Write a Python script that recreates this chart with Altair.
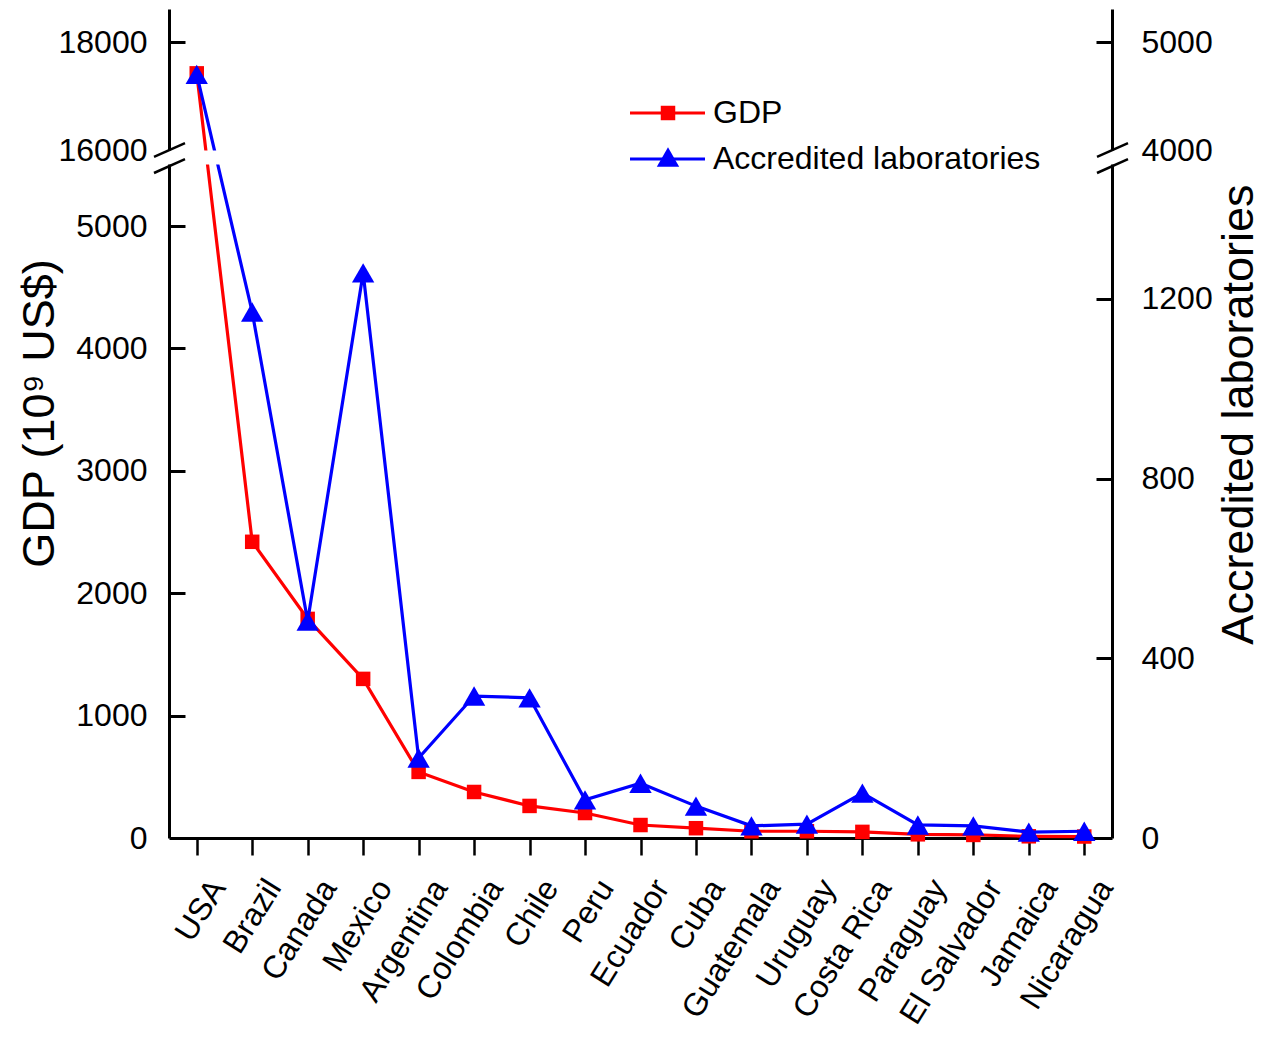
import altair as alt
import pandas as pd

# ---------------- data ----------------
countries = ["USA", "Brazil", "Canada", "Mexico", "Argentina", "Colombia", "Chile",
             "Peru", "Ecuador", "Cuba", "Guatemala", "Uruguay", "Costa Rica",
             "Paraguay", "El Salvador", "Jamaica", "Nicaragua"]
gdp = [17420, 2420, 1790, 1300, 540, 376, 262, 204, 106, 80, 55, 55, 50, 30, 25, 14, 12]
labs = [4700, 1171, 483, 1258, 178, 316, 312, 85, 122, 71, 27, 31, 100, 29, 27, 13, 15]

gdp_ticks = [0, 1000, 2000, 3000, 4000, 5000, 16000, 18000]
labs_ticks = [0, 400, 800, 1200, 4000, 5000]
legend_labels = ["GDP", "Accredited laboratories"]

# ---------------- broken-axis scale setup ----------------
W, H = 943, 829
FONT = "Liberation Sans"

G_TOP = 6773.0        # top of left display domain
G_BREAK = 16000.0     # first value of upper segment
G_BREAK_D = 5621.0    # display position of G_BREAK
G_UP = 0.441          # compression of upper segment

L_TOP = 1845.5
L_BREAK = 4000.0
L_BREAK_D = 1531.6
L_UP = 0.2404


def gd(v):
    return v if v < 10000 else G_BREAK_D + (v - G_BREAK) * G_UP


def ld(v):
    return v if v < 3000 else L_BREAK_D + (v - L_BREAK) * L_UP


def label_expr(ticks, fn):
    parts = []
    for t in ticks:
        if fn(t) != t:
            parts.append("abs(datum.value - %f) < 1 ? '%d' : " % (fn(t), t))
    return "".join(parts) + "datum.label"


df = pd.DataFrame({"country": countries, "gdp": gdp, "labs": labs})

base = alt.Chart(df).transform_calculate(
    gdp_d="datum.gdp < 10000 ? datum.gdp : %f + (datum.gdp - %f) * %f" % (G_BREAK_D, G_BREAK, G_UP),
    labs_d="datum.labs < 3000 ? datum.labs : %f + (datum.labs - %f) * %f" % (L_BREAK_D, L_BREAK, L_UP),
)

xenc = alt.X(
    "country:N", sort=countries, title=None,
    scale=alt.Scale(padding=0.5),
    axis=alt.Axis(
        labelAngle=302, labelAlign="right", labelBaseline="middle",
        labelFontSize=32, labelFont=FONT, labelColor="black",
        labelOffset=21, labelPadding=27,
        tickSize=17, tickWidth=2.5, tickColor="black",
        domainWidth=3, domainColor="black", grid=False,
    ),
)

gscale = alt.Scale(domain=[0, G_TOP], nice=False, zero=False)
lscale = alt.Scale(domain=[0, L_TOP], nice=False, zero=False)

common_label_axis = dict(
    tickSize=0, ticks=False, grid=False, format="d",
    labelFontSize=32, labelFont=FONT, labelColor="black",
    domainWidth=3, domainColor="black",
    titleFontSize=45, titleFont=FONT, titleFontWeight="normal", titleColor="black",
    titleAngle=270, titleAlign="center", titleBaseline="alphabetic",
)

gdp_line = base.mark_line(color="#ff0000", strokeWidth=3.2).encode(
    x=xenc,
    y=alt.Y("gdp_d:Q", scale=gscale, title="GDP (10⁹ US$)",
            axis=alt.Axis(orient="left", values=[gd(t) for t in gdp_ticks],
                          labelExpr=label_expr(gdp_ticks, gd), labelPadding=22,
                          titleX=-116, titleY=404, **common_label_axis)),
)
gdp_pts = base.mark_point(shape="square", filled=True, size=210, color="#ff0000", opacity=1).encode(
    x=xenc,
    y=alt.Y("gdp_d:Q", scale=gscale,
            axis=alt.Axis(orient="right", offset=-W, labels=False, domain=False, grid=False,
                          values=[gd(t) for t in gdp_ticks if t not in (0, 16000)],
                          tickSize=16, tickWidth=3, tickColor="black", title=None)),
)
labs_line = base.mark_line(color="#0000ff", strokeWidth=3.2).encode(
    x=xenc,
    y=alt.Y("labs_d:Q", scale=lscale, title="Accredited laboratories",
            axis=alt.Axis(orient="right", values=[ld(t) for t in labs_ticks],
                          labelExpr=label_expr(labs_ticks, ld), labelPadding=29,
                          titleX=140, titleY=405, **common_label_axis)),
)
labs_pts = base.mark_point(shape="triangle-up", filled=True, size=500, color="#0000ff", opacity=1).encode(
    x=xenc,
    y=alt.Y("labs_d:Q", scale=lscale,
            axis=alt.Axis(orient="left", offset=-W, labels=False, domain=False, grid=False,
                          values=[ld(t) for t in labs_ticks if t not in (0, 4000)],
                          tickSize=16, tickWidth=3, tickColor="black", title=None)),
)

# ---------------- axis break decoration ----------------
gap = alt.Chart(pd.DataFrame({"y1": [5503.0], "y2": [G_BREAK_D - 4]})).mark_rect(
    color="white").encode(
    x=alt.value(-12), x2=alt.value(W + 12),
    y=alt.Y("y1:Q", scale=gscale, axis=None), y2="y2:Q",
)
slash_df = pd.DataFrame({"y1": [G_BREAK_D - 57, 5490 - 57], "y2": [G_BREAK_D + 57, 5490 + 57]})
slash_l = alt.Chart(slash_df).mark_rule(color="black", strokeWidth=2.5).encode(
    x=alt.value(-15), x2=alt.value(16),
    y=alt.Y("y1:Q", scale=gscale, axis=None), y2="y2:Q",
)
slash_r = alt.Chart(slash_df).mark_rule(color="black", strokeWidth=2.5).encode(
    x=alt.value(W - 15), x2=alt.value(W + 16),
    y=alt.Y("y1:Q", scale=gscale, axis=None), y2="y2:Q",
)

# ---------------- legend ----------------
leg_df = pd.DataFrame({"label": legend_labels})
leg_y = [104, 150]
leg_colors = ["#ff0000", "#0000ff"]
leg_shapes = ["square", "triangle-up"]
leg_sizes = [210, 500]
legend_layers = []
for i in range(2):
    d = alt.Chart(leg_df.iloc[[i]])
    legend_layers.append(d.mark_rule(color=leg_colors[i], strokeWidth=3.2).encode(
        x=alt.value(461), x2=alt.value(536), y=alt.value(leg_y[i])))
    legend_layers.append(d.mark_point(shape=leg_shapes[i], filled=True, size=leg_sizes[i],
                                      color=leg_colors[i], opacity=1).encode(
        x=alt.value(499), y=alt.value(leg_y[i] - (2 if i == 1 else 0))))
    legend_layers.append(d.mark_text(align="left", baseline="middle", fontSize=32, font=FONT,
                                     color="black").encode(
        x=alt.value(544), y=alt.value(leg_y[i]), text="label:N"))

chart = alt.layer(
    gdp_line, gdp_pts, labs_line, labs_pts, gap, slash_l, slash_r, *legend_layers
).resolve_scale(y="independent").properties(
    width=W, height=H,
    autosize=alt.AutoSizeParams(type="none"),
    padding={"left": 161, "top": 1, "right": 150, "bottom": 195},
).configure_view(stroke="transparent")

chart.save("out.html", embed_options={"renderer": "svg", "actions": False})
